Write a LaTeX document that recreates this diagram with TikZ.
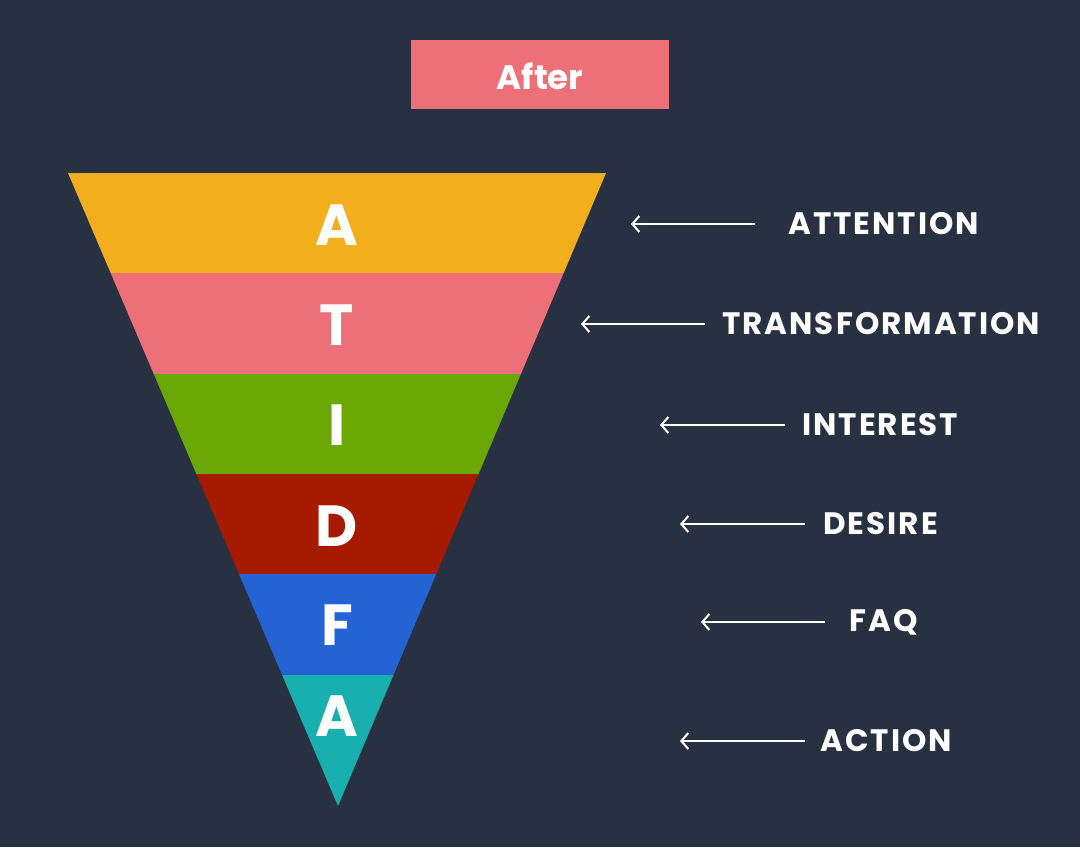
\documentclass[tikz,border=0pt]{standalone}
\usepackage{fontspec}
\setmainfont{Poppins}
\newfontfamily\labfont{Poppins}[LetterSpace=6.5]
\usetikzlibrary{arrows.meta}
\definecolor{bg}{HTML}{283142}
\definecolor{cA}{HTML}{F2AE1C}
\definecolor{cT}{HTML}{ED7078}
\definecolor{cI}{HTML}{6AA805}
\definecolor{cD}{HTML}{A51A00}
\definecolor{cF}{HTML}{2463D4}
\definecolor{cAc}{HTML}{18AFAF}
\begin{document}
\begin{tikzpicture}[x=1pt,y=-1pt,
  letter/.style={text=white,font=\fontsize{58}{60}\selectfont\bfseries,inner sep=0},
  lab/.style={text=white,font=\labfont\fontsize{31}{33}\selectfont\bfseries,anchor=west,inner sep=0},
  arr/.style={white,line width=2pt,-{Straight Barb[length=7pt,width=16pt,line width=2pt]}}]
\fill[bg] (0,0) rectangle (1080,847);
\useasboundingbox (0,0) rectangle (1080,847);
% title
\fill[cT] (411,40) rectangle (669,109);
\node[text=white,font=\fontsize{34}{36}\selectfont\bfseries] (title) at (540,76) {After};
% funnel bands
\def\lx#1{68+(#1-173)*0.42654}
\def\rx#1{606-(#1-173)*0.42338}
\fill[cA] (68,173) -- (606,173) -- ({\rx{273}},273) -- ({\lx{273}},273) -- cycle;
\fill[cT] ({\lx{273}},273) -- ({\rx{273}},273) -- ({\rx{374}},374) -- ({\lx{374}},374) -- cycle;
\fill[cI] ({\lx{374}},374) -- ({\rx{374}},374) -- ({\rx{474}},474) -- ({\lx{474}},474) -- cycle;
\fill[cD] ({\lx{474}},474) -- ({\rx{474}},474) -- ({\rx{574}},574) -- ({\lx{574}},574) -- cycle;
\fill[cF] ({\lx{574}},574) -- ({\rx{574}},574) -- ({\rx{675}},675) -- ({\lx{675}},675) -- cycle;
\fill[cAc] ({\lx{675}},675) -- ({\rx{675}},675) -- (338,806) -- cycle;
% letters
\node[letter] (l1) at (337,225) {A};
\node[letter] (l2) at (337,325) {T};
\node[letter] (l3) at (337,425) {I};
\node[letter] (l4) at (337,526) {D};
\node[letter] (l5) at (337,625) {F};
\node[letter] (l6) at (337,716) {A};
% labels
\node[lab] (t1) at (788,224) {ATTENTION};
\node[lab] (t2) at (722,324) {TRANSFORMATION};
\node[lab] (t3) at (802,425) {INTEREST};
\node[lab] (t4) at (823,524) {DESIRE};
\node[lab] (t5) at (849,622) {FAQ};
\node[lab] (t6) at (820,741) {ACTION};
% arrow endpoints
\coordinate (e1) at (631,224); \coordinate (s1) at (755,224);
\coordinate (e2) at (581,324); \coordinate (s2) at (705,324);
\coordinate (e3) at (660,425); \coordinate (s3) at (785,425);
\coordinate (e4) at (680,524); \coordinate (s4) at (805,524);
\coordinate (e5) at (701,622); \coordinate (s5) at (825,622);
\coordinate (e6) at (680,741); \coordinate (s6) at (805,741);
\foreach \i in {1,...,6} {\draw[arr] (s\i) -- (e\i);}
\end{tikzpicture}
\end{document}
